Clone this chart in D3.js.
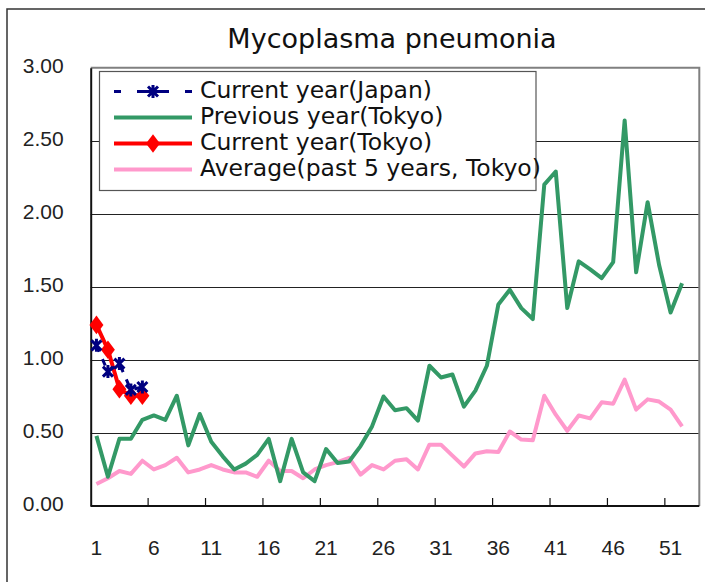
<!DOCTYPE html>
<html>
<head>
<meta charset="utf-8">
<script src="https://cdn.jsdelivr.net/npm/d3@7"></script>
<style>
  body { margin: 0; background: #fff; }
</style>
</head>
<body>
<div id="chart"></div>
<script>
// weeks on the category axis
var weeks = d3.range(1, 54);
var weekLabels = [1, 6, 11, 16, 21, 26, 31, 36, 41, 46, 51];
var yTicks = [0, 0.5, 1.0, 1.5, 2.0, 2.5, 3.0];

var currentJapan = [1.10, 0.92, 0.975, 0.795, 0.815];
var currentTokyo = [1.24, 1.07, 0.80, 0.755, 0.755];
var previousTokyo = [0.48, 0.20, 0.46, 0.46, 0.59, 0.62, 0.59, 0.755, 0.415, 0.63,
    0.44, 0.34, 0.25, 0.29, 0.35, 0.46, 0.17, 0.46, 0.23, 0.17,
    0.39, 0.295, 0.305, 0.41, 0.545, 0.75, 0.655, 0.67, 0.585, 0.96,
    0.88, 0.90, 0.68, 0.79, 0.96, 1.38, 1.48, 1.355, 1.28, 2.20,
    2.29, 1.355, 1.675, 1.62, 1.56, 1.67, 2.64, 1.60, 2.08, 1.65,
    1.325, 1.525];
var averageTokyo = [0.15, 0.19, 0.24, 0.22, 0.31, 0.25, 0.28, 0.33, 0.23, 0.25,
    0.28, 0.25, 0.23, 0.23, 0.20, 0.31, 0.24, 0.24, 0.19, 0.25,
    0.28, 0.30, 0.33, 0.215, 0.28, 0.25, 0.31, 0.32, 0.25, 0.42,
    0.42, 0.345, 0.27, 0.36, 0.375, 0.37, 0.51, 0.455, 0.45, 0.755,
    0.625, 0.515, 0.62, 0.60, 0.71, 0.70, 0.865, 0.66, 0.73, 0.715,
    0.66, 0.545];

var seriesNames = ["Current year(Japan)", "Previous year(Tokyo)", "Current year(Tokyo)", "Average(past 5 years, Tokyo)"];

var width = 705;
var height = 582;
var plot = { left: 90.7, right: 699.3, top: 67.8, bottom: 506 };

var svg = d3.select("#chart")
    .append("svg")
    .attr("width", width)
    .attr("height", height);

// outer chart frame (right and bottom run off the picture)
svg.append("rect")
    .attr("x", 7).attr("y", 9)
    .attr("width", 720).attr("height", 600)
    .attr("fill", "#fff")
    .attr("stroke", "#333")
    .attr("stroke-width", 1.5);

var x = d3.scaleBand()
    .domain(weeks)
    .range([plot.left, plot.right])
    .paddingInner(0)
    .paddingOuter(0);

var y = d3.scaleLinear()
    .domain([0, 3])
    .range([plot.bottom, plot.top]);

function cx(w) { return x(w) + x.bandwidth() / 2; }

// title
svg.append("text")
    .attr("x", 392)
    .attr("y", 48)
    .attr("text-anchor", "middle")
    .style("font-family", "DejaVu Sans")
    .style("font-size", "27px")
    .style("fill", "#111")
    .text("Mycoplasma pneumonia");

// gridlines
svg.append("g")
    .selectAll("line")
    .data(yTicks.filter(function(d) { return d > 0 && d < 3; }))
    .enter()
    .append("line")
    .attr("x1", plot.left).attr("x2", plot.right)
    .attr("y1", function(d) { return Math.round(y(d)) + 0.5; })
    .attr("y2", function(d) { return Math.round(y(d)) + 0.5; })
    .attr("stroke", "#222")
    .attr("stroke-width", 1);

// plot area border top / right
svg.append("path")
    .attr("d", "M" + plot.left + "," + plot.top + "H" + plot.right + "V" + plot.bottom)
    .attr("fill", "none")
    .attr("stroke", "#808080")
    .attr("stroke-width", 2);

// y axis
var yAxis = d3.axisLeft(y)
    .tickValues(yTicks)
    .tickSize(0)
    .tickPadding(27)
    .tickFormat(d3.format(".2f"));

var gy = svg.append("g")
    .attr("transform", "translate(" + plot.left + ",0)")
    .call(yAxis);
gy.select(".domain").attr("stroke", "#111").attr("stroke-width", 2);
gy.selectAll("text")
    .attr("dy", "0.2em")
    .style("font-family", "Liberation Sans")
    .style("font-size", "21px")
    .style("fill", "#222");

// x axis: ticks between categories every 5 weeks, labels centred
var gx = svg.append("g")
    .attr("transform", "translate(0," + plot.bottom + ")");
gx.append("line")
    .attr("x1", plot.left).attr("x2", plot.right)
    .attr("stroke", "#111").attr("stroke-width", 2);
gx.selectAll(".tick")
    .data(weekLabels.slice(1))
    .enter()
    .append("line")
    .attr("class", "tick")
    .attr("x1", function(d) { return x(d); })
    .attr("x2", function(d) { return x(d); })
    .attr("y1", 0).attr("y2", -8)
    .attr("stroke", "#111").attr("stroke-width", 1.2);
gx.selectAll("text")
    .data(weekLabels)
    .enter()
    .append("text")
    .attr("x", function(d) { return cx(d); })
    .attr("y", 49)
    .attr("text-anchor", "middle")
    .style("font-family", "Liberation Sans")
    .style("font-size", "21px")
    .style("fill", "#222")
    .text(function(d) { return d; });

var line = d3.line()
    .x(function(d, i) { return cx(weeks[i]); })
    .y(function(d) { return y(d); });

svg.append("path")
    .datum(averageTokyo)
    .attr("d", line)
    .attr("fill", "none")
    .attr("stroke", "#ff99cc")
    .attr("stroke-width", 4)
    .attr("stroke-linejoin", "round");

svg.append("path")
    .datum(previousTokyo)
    .attr("d", line)
    .attr("fill", "none")
    .attr("stroke", "#339966")
    .attr("stroke-width", 4)
    .attr("stroke-linejoin", "round");

svg.append("path")
    .datum(currentTokyo)
    .attr("d", line)
    .attr("fill", "none")
    .attr("stroke", "#ff0000")
    .attr("stroke-width", 4);

var diamond = d3.symbol().type(d3.symbolDiamond).size(100);
// excel style star marker: an X with a vertical bar
var star = "M0,-6.5V6.5M-5,-5L5,5M-5,5L5,-5";

svg.append("g")
    .selectAll("path")
    .data(currentTokyo)
    .enter()
    .append("path")
    .attr("d", diamond)
    .attr("transform", function(d, i) { return "translate(" + cx(weeks[i]) + "," + y(d) + ") scale(1.3,1)"; })
    .attr("fill", "#ff0000");

svg.append("path")
    .datum(currentJapan)
    .attr("d", line)
    .attr("fill", "none")
    .attr("stroke", "#000080")
    .attr("stroke-width", 3)
    .attr("stroke-dasharray", "7,8");

svg.append("g")
    .selectAll("path")
    .data(currentJapan)
    .enter()
    .append("path")
    .attr("d", star)
    .attr("transform", function(d, i) { return "translate(" + cx(weeks[i]) + "," + y(d) + ")"; })
    .attr("stroke", "#000080")
    .attr("stroke-width", 3);

// legend
var legend = svg.append("g");
legend.append("rect")
    .attr("x", 99.5).attr("y", 71.5)
    .attr("width", 436.5).attr("height", 119)
    .attr("fill", "#fff")
    .attr("stroke", "#555")
    .attr("stroke-width", 1.2);

var rows = legend.selectAll(".row")
    .data(seriesNames)
    .enter()
    .append("g")
    .attr("transform", function(d, i) { return "translate(0," + (91.5 + i * 26) + ")"; });

rows.append("text")
    .attr("x", 200)
    .attr("y", 6)
    .style("font-family", "DejaVu Sans")
    .style("font-size", "23.5px")
    .style("fill", "#111")
    .text(function(d) { return d; });

rows.each(function(d, i) {
    var r = d3.select(this);
    if (i === 0) {
        [[114, 121], [137, 169], [185, 192]].forEach(function(s) {
            r.append("line").attr("x1", s[0]).attr("x2", s[1])
                .attr("stroke", "#000080").attr("stroke-width", 3);
        });
        r.append("path").attr("d", star)
            .attr("transform", "translate(153,0)")
            .attr("stroke", "#000080").attr("stroke-width", 3);
    } else if (i === 1) {
        r.append("line").attr("x1", 114).attr("x2", 192)
            .attr("stroke", "#339966").attr("stroke-width", 4);
    } else if (i === 2) {
        r.append("line").attr("x1", 114).attr("x2", 192)
            .attr("stroke", "#ff0000").attr("stroke-width", 4);
        r.append("path").attr("d", diamond)
            .attr("transform", "translate(153,0) scale(1.3,1)")
            .attr("fill", "#ff0000");
    } else {
        r.append("line").attr("x1", 114).attr("x2", 192)
            .attr("stroke", "#ff99cc").attr("stroke-width", 4);
    }
});
</script>
</body>
</html>
